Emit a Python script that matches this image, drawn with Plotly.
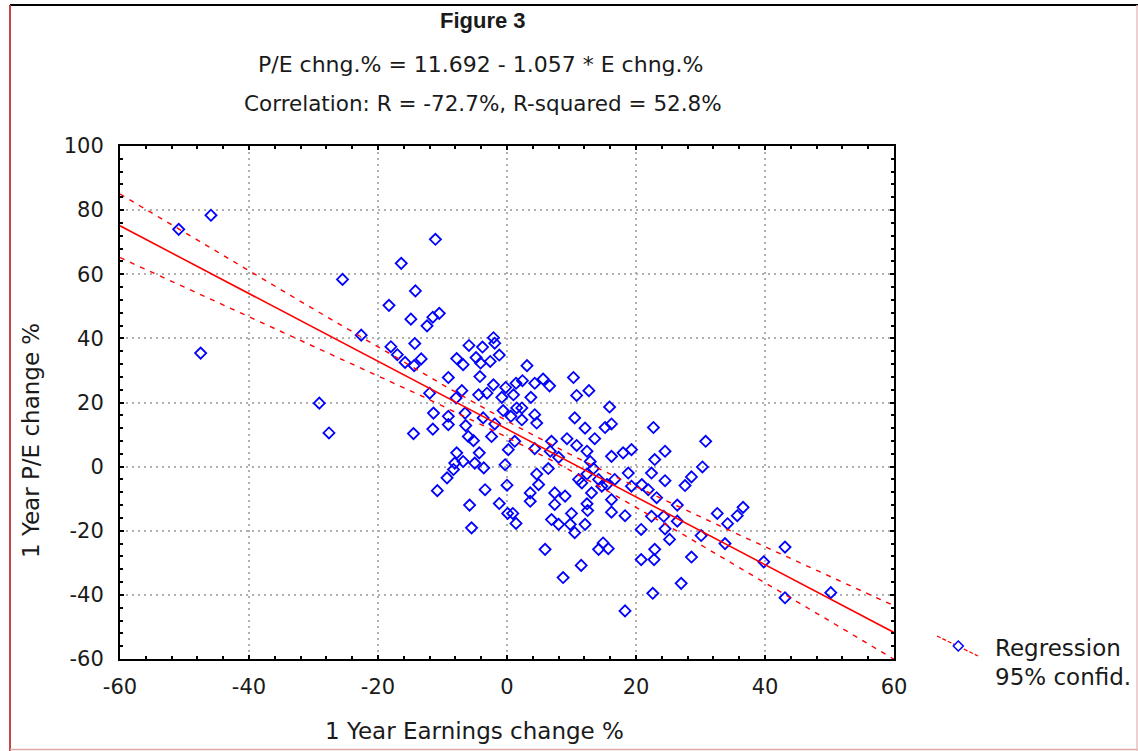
import numpy as np
import plotly.graph_objects as go

# ---------------- data ----------------
earn_chg = [
    -50.9, -45.9, -47.5, -29.1, -27.6, -25.5,
    -11.1, -16.4, -14.2, -18.3, -14.9, -12.4, -11.5, -10.5, -22.6, -18.0, -14.3, -17.0, -15.8, -14.4,
    -13.3, -5.9, -3.8, -2.1, -1.9, -1.2, -7.8, -6.8, -4.8, -4.1, -2.6,
    -9.1, -12.0, -7.0, -7.9, -4.4, -3.1, -2.1, -0.2, 1.4, -0.8, 1.0, -11.4, -9.1, -6.5, -9.1, -6.4,
    -3.7, -1.9, -0.6, 0.6, 1.5, -14.5, -11.5, -6.0, -5.2, -2.4, 0.2, 1.2, -7.8, -4.3, -6.8, -8.1,
    -5.0, -3.6, -8.3, -0.3, -9.3, -10.8, -3.4, 0.0, -4.2,
    -5.8, -1.2, 0.1, 0.9, 1.4, -5.5,
    3.1, 2.4, 4.3, 5.6, 6.6, 3.7, 10.3, 10.8, 12.7, 15.9, 2.3, 4.3, 10.5,
    2.3, 4.6, 12.1, 15.2, 16.2, 22.7, 6.9, 9.3, 10.8, 13.6, 12.4, 4.3, 6.7, 8.0, 16.2, 18.0, 19.3,
    22.9, 6.4, 4.6, 12.9, 13.4, 12.4, 11.1, 11.6, 14.2, 15.5, 18.8, 22.4, 4.9, 3.6, 7.4, 9.0, 13.1,
    14.7, 16.7, 19.3, 20.9, 21.9, 3.6, 7.4, 12.4, 16.2, 23.2,
    6.9, 8.0, 10.0, 9.8, 10.5, 12.1, 12.5, 16.2, 18.3, 20.8, 22.4, 5.9, 14.2, 14.9, 15.7, 11.5, 8.7,
    20.8, 22.8, 22.9, 22.6, 18.3,
    30.8, 24.5, 30.3, 24.5, 28.6, 27.6, 26.4, 24.3, 24.5, 25.2, 26.4, 32.6, 34.2, 35.7, 36.6, 30.1,
    33.8, 28.6, 27.0, 39.8, 43.1, 43.1, 50.2,
]
pe_chg = [
    74.0, 78.4, 35.4, 19.8, 10.5, 58.4,
    70.9, 63.4, 54.8, 50.3, 46.0, 43.9, 46.6, 47.8, 41.0, 37.4, 38.4, 34.9, 32.5, 31.5,
    33.6, 37.8, 37.3, 40.2, 38.5, 34.8, 33.7, 31.8, 34.0, 32.3, 32.8,
    27.8, 22.9, 23.7, 21.4, 22.4, 22.9, 25.5, 24.7, 26.0, 21.6, 22.4, 16.7, 15.7, 16.7, 13.1, 12.8,
    15.2, 13.3, 17.5, 15.7, 18.3, 10.3, 11.7, 9.4, 8.1, 9.4, 5.3, 7.9, 4.3, 4.3, 1.6, 1.1,
    1.1, -0.4, -0.9, 0.6, -3.5, -7.5, -7.2, -5.8, 28.1,
    -12.0, -11.5, -14.6, -14.6, -17.7, -19.1,
    31.5, 26.8, 26.0, 27.3, 25.2, 21.6, 27.8, 22.2, 23.7, 18.6, 18.3, 16.2, 15.2,
    14.6, 13.6, 12.0, 12.2, 13.3, 12.2, 7.9, 8.7, 6.6, 8.7, 4.8, 5.6, 4.8, 2.9, 3.2, 4.3, 5.3,
    2.2, -0.6, -2.3, 1.6, -0.6, -2.3, -4.0, -5.1, -4.0, -5.6, -2.0, -2.0, -5.6, -8.2, -8.2, -9.2, -8.2,
    -6.1, -4.0, -6.1, -5.6, -7.2, -10.8, -11.8, -11.6, -10.3, -9.7,
    -16.5, -18.0, -14.6, -18.0, -20.6, -18.0, -13.7, -14.2, -15.3, -19.6, -15.5, -25.8, -25.8, -23.8, -25.6, -30.8, -34.6,
    -29.0, -29.0, -25.8, -39.5, -45.0,
    7.9, 4.8, -0.1, -4.4, -3.2, -5.9, -12.0, -15.5, -19.4, -22.7, -17.0, -14.6, -17.8, -15.3, -12.7, -21.5,
    -24.0, -28.2, -36.4, -29.7, -25.1, -40.9, -39.3,
]

# regression equation as printed on the chart
intercept = 11.692
slope = -1.057

x_ticks = [-60, -40, -20, 0, 20, 40, 60]
y_ticks = [-60, -40, -20, 0, 20, 40, 60, 80, 100]

title_main = "Figure 3"
title_eq = "P/E chng.% = 11.692 - 1.057 * E chng.%"
title_corr = "Correlation: R = -72.7%, R-squared = 52.8%"
x_title = "1 Year Earnings change %"
y_title = "1 Year P/E change %"
legend_labels = ["Regression", "95% confid."]

# ---------------- derived lines ----------------
x = np.array(earn_chg)
y = np.array(pe_chg)
n = len(x)
xbar = x.mean()
sxx = ((x - xbar) ** 2).sum()
resid = y - (intercept + slope * x)
s = np.sqrt((resid ** 2).sum() / (n - 2))
t_crit = 1.97

xg = np.linspace(-60, 60, 241)
yg = intercept + slope * xg
hw = t_crit * s * np.sqrt(1.0 / n + (xg - xbar) ** 2 / sxx)

# ---------------- figure ----------------
W, H = 1138, 751
L, R, T, B = 120, 244, 146, 92
PW, PH = W - L - R, H - T - B


def px(xp):
    return (xp - L) / PW


def py(yp):
    return (H - B - yp) / PH


FONT = "DejaVu Sans, Verdana, sans-serif"
BFONT = "Liberation Sans, Arial, sans-serif"
TXT = "#1a1a1a"

fig = go.Figure()
fig.add_trace(go.Scatter(x=x, y=y, mode="markers",
                         marker=dict(symbol="diamond-open", size=8.5, color="#0000ff",
                                     line=dict(width=1.8, color="#0000ff")),
                         showlegend=False, hoverinfo="x+y"))
fig.add_trace(go.Scatter(x=xg, y=yg, mode="lines", line=dict(color="#ff0000", width=1.6),
                         showlegend=False, hoverinfo="skip"))
fig.add_trace(go.Scatter(x=xg, y=yg + hw, mode="lines",
                         line=dict(color="#ff0000", width=1.4, dash="5px,6px"),
                         showlegend=False, hoverinfo="skip"))
fig.add_trace(go.Scatter(x=xg, y=yg - hw, mode="lines",
                         line=dict(color="#ff0000", width=1.4, dash="5px,6px"),
                         showlegend=False, hoverinfo="skip"))

axis_common = dict(
    showline=True, linecolor="black", linewidth=2, mirror="allticks",
    ticks="inside", ticklen=4, tickwidth=1.5, tickcolor="black",
    showgrid=True, gridcolor="#b0b0b0", gridwidth=1.5, griddash="2px,4px",
    zeroline=False,
    tickfont=dict(family=FONT, size=21, color=TXT),
    minor=dict(dtick=4, ticks="inside", ticklen=3, tickwidth=1.5, tickcolor="black", showgrid=False),
)
fig.update_xaxes(range=[-60, 60], tickvals=x_ticks, ticktext=[str(v) for v in x_ticks],
                 tick0=-60, ticklabelstandoff=8, **axis_common)
fig.update_yaxes(range=[-60, 100], tickvals=y_ticks, ticktext=[str(v) for v in y_ticks],
                 tick0=-60, ticklabelstandoff=10, **axis_common)

annos = [
    dict(x=px(483), y=py(21), text="<b>" + title_main + "</b>", font=dict(size=22, family=BFONT)),
    dict(x=px(480), y=py(65), text=title_eq, font=dict(size=22)),
    dict(x=px(483), y=py(103), text=title_corr, font=dict(size=21.5)),
    dict(x=px(474), y=py(731), text=x_title, font=dict(size=23)),
    dict(x=px(31), y=py(441), text=y_title, font=dict(size=23), textangle=-90),
    dict(x=px(993), y=py(648), text=legend_labels[0], font=dict(size=23), xanchor="left"),
    dict(x=px(993), y=py(677), text=legend_labels[1], font=dict(size=23), xanchor="left"),
]
for a in annos:
    a.setdefault("xanchor", "center")
    a["xref"] = "paper"
    a["yref"] = "paper"
    a["yanchor"] = "middle"
    a["showarrow"] = False
    f = dict(family=FONT, color=TXT)
    f.update(a["font"])
    a["font"] = f
fig.update_layout(annotations=annos)

# frame around the picture and the legend symbol
shapes = [
    dict(type="line", x0=px(10), x1=px(1138), y0=py(5), y1=py(5), line=dict(color="black", width=2)),
    dict(type="line", x0=px(10), x1=px(10), y0=py(5), y1=py(751), line=dict(color="#c04848", width=2)),
    dict(type="line", x0=px(10), x1=px(1138), y0=py(749.5), y1=py(749.5), line=dict(color="#e0a8a8", width=1.5)),
    dict(type="line", x0=px(1137), x1=px(1137), y0=py(5), y1=py(751), line=dict(color="#e8c0c0", width=1.5)),
    dict(type="line", x0=px(937), x1=px(978), y0=py(636), y1=py(656), line=dict(color="#ff0000", width=1.3, dash="4px,2px")),
    dict(type="path",
         path="M {a},{b} L {c},{d} L {a},{e} L {f},{d} Z".format(
             a=px(958.3), b=py(641), c=px(963.3), d=py(646), e=py(651), f=px(953.3)),
         fillcolor="white", line=dict(color="#0000ff", width=1.5)),
]
for sh in shapes:
    sh["xref"] = "paper"
    sh["yref"] = "paper"
    sh["layer"] = "above"
fig.update_layout(shapes=shapes)

fig.update_layout(
    width=W, height=H, autosize=False,
    margin=dict(l=L, r=R, t=T, b=B, pad=0),
    paper_bgcolor="white", plot_bgcolor="white",
    font=dict(family=FONT, color=TXT),
    showlegend=False,
)
fig.write_html("out.html", config={"displayModeBar": False},
               post_script="document.body.style.margin='0px';")
